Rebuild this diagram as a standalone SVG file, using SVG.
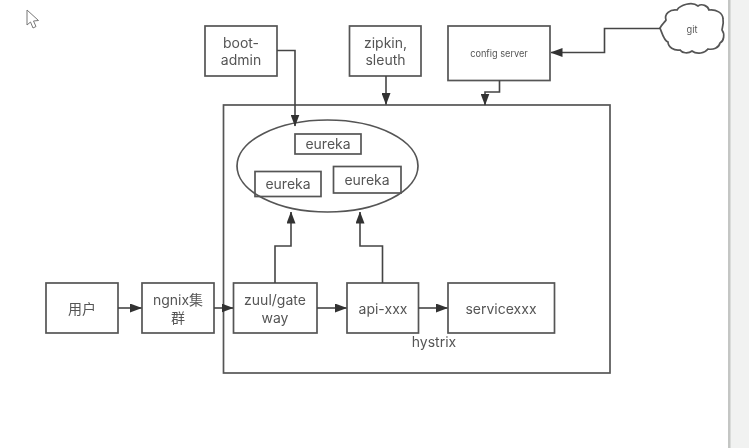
<svg xmlns="http://www.w3.org/2000/svg" width="749" height="448" viewBox="0 0 749 448">
<style>
.b{fill:#fff;stroke:#555;stroke-width:1.7}
.n{fill:none;stroke:#555;stroke-width:1.7}
.c{fill:none;stroke:#444;stroke-width:1.6;marker-end:url(#a)}
text{font-family:Inter,"Noto Sans CJK SC",sans-serif;font-size:14px;fill:#555;text-anchor:middle}
.s{font-size:9.200px}
</style>
<defs>
<marker id="a" viewBox="0 0 12 9" refX="11.500" refY="4.500" markerWidth="12" markerHeight="9" markerUnits="userSpaceOnUse" orient="auto"><path d="M0 0L12 4.500L0 9Z" fill="#333"/></marker>
<filter id="soft" x="-2%" y="-2%" width="104%" height="104%"><feGaussianBlur stdDeviation="0.4"/></filter>
</defs>
<rect width="749" height="448" fill="#fff"/>
<g id="scrollbar"><rect x="729" y="0" width="20" height="448" fill="#f1f2f1"/><rect x="728" y="0" width="2.500" height="448" fill="#c4c6c4"/></g>
<g filter="url(#soft)">
<g id="cursor"><path d="M27 10L27 25L30.500 22L33 28L36 26.500L33.500 21L38.500 20.500Z" fill="#fff" stroke="#777" stroke-width="1"/></g>
<g id="container"><rect class="n" x="223.500" y="105" width="386.500" height="268"/></g>
<g id="eureka-1"><rect class="b" x="295" y="134" width="66" height="20"/><text x="328" y="149">eureka</text></g>
<g id="eureka-2"><rect class="b" x="255" y="171.500" width="66" height="25"/><text x="288" y="189">eureka</text></g>
<g id="eureka-3"><rect class="b" x="333.500" y="166.500" width="67.500" height="26.500"/><text x="367" y="185">eureka</text></g>
<g id="eureka-cluster"><ellipse class="n" cx="327.500" cy="166" rx="90.500" ry="46"/></g>
<g id="boot-admin"><rect class="b" x="205" y="26" width="72" height="50"/><text y="47.500"><tspan x="241">boot-</tspan><tspan x="241" dy="17.500">admin</tspan></text></g>
<g id="zipkin"><rect class="b" x="349.500" y="26" width="71.500" height="50"/><text y="47.500"><tspan x="385.500">zipkin,</tspan><tspan x="385.500" dy="17.500">sleuth</tspan></text></g>
<g id="config-server"><rect class="b" x="448" y="26" width="102" height="54.500"/><text class="s" x="499" y="56.500">config server</text></g>
<g id="git"><path class="b" d="M660 28C662 24 665 22 666 20C664 14 670 9 677 10C680 5 692 1 698 6C702 3 708 6 709 10C716 9 723 13 723 19C724 24 722 28 722 30C725 34 724 41 720 43C719 48 713 50 708 49C705 53 697 55 692 51C688 54 682 53 680 50C674 51 668 47 668 42C664 41 662 33 660 28Z"/><text class="s" x="692" y="32.500">git</text></g>
<g id="user"><rect class="b" x="46" y="283" width="72" height="50"/><text x="82" y="313.500">用户</text></g>
<g id="ngnix"><rect class="b" x="142" y="283" width="72" height="50"/><text y="305"><tspan x="178">ngnix集</tspan><tspan x="178" dy="18">群</tspan></text></g>
<g id="zuul"><rect class="b" x="233.500" y="283" width="83.500" height="50"/><text y="305"><tspan x="275">zuul/gate</tspan><tspan x="275" dy="18">way</tspan></text></g>
<g id="api"><rect class="b" x="347" y="283" width="71.500" height="50"/><text x="383" y="313.500">api-xxx</text></g>
<g id="service"><rect class="b" x="448" y="283" width="106.500" height="50"/><text x="501" y="313.500">servicexxx</text></g>
<g id="hystrix"><text x="434" y="347">hystrix</text></g>
<g id="connectors">
<path class="c" d="M277 50.500H295V126"/>
<path class="c" d="M386 76V104.500"/>
<path class="c" d="M499.500 80.500V92H485V105"/>
<path class="c" d="M660 28.500H604.500V52.500H551"/>
<path class="c" d="M118 308H141.500"/>
<path class="c" d="M214 308H233"/>
<path class="c" d="M317 308H346.500"/>
<path class="c" d="M418.500 308H447.500"/>
<path class="c" d="M275 283V246H291V212"/>
<path class="c" d="M382.500 283V246H360V212"/>
</g>
</g>
</svg>
